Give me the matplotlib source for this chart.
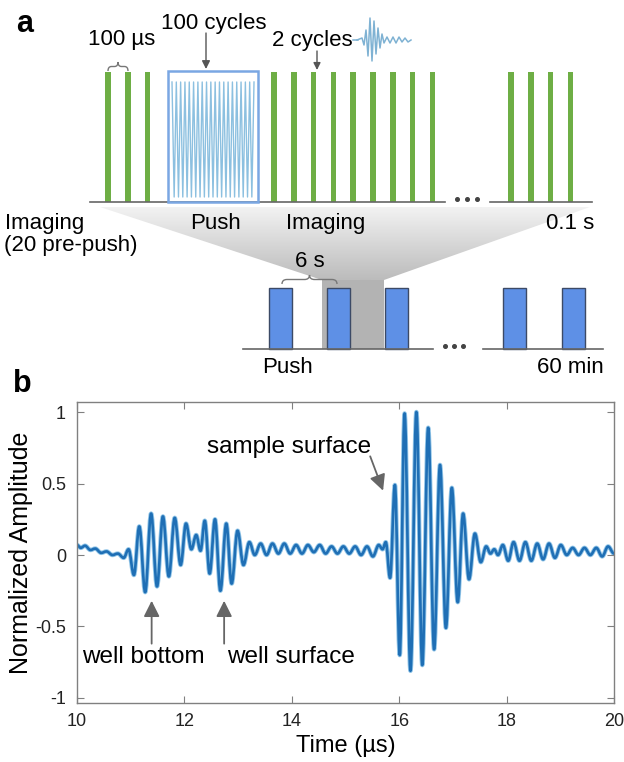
import numpy as np
import matplotlib
matplotlib.use('Agg')
from matplotlib import pyplot as plt
from matplotlib.path import Path
from matplotlib.patches import PathPatch, Rectangle, Polygon
from matplotlib.colors import LinearSegmentedColormap

plt.rcParams['font.family'] = ['Liberation Sans', 'DejaVu Sans']
plt.rcParams['axes.unicode_minus'] = False

# ---- panel b: echo trace, extrema ----
echo_t = [10.00, 10.07, 10.15, 10.25, 10.34, 10.45, 10.55, 10.66, 10.76, 10.87, 10.96,
          11.06, 11.16, 11.27, 11.38, 11.49, 11.60, 11.71, 11.82, 11.93, 12.03,
          12.13, 12.22, 12.30, 12.38, 12.47, 12.57, 12.67, 12.78, 12.88, 12.99,
          13.10, 13.21, 13.31, 13.42, 13.53, 13.64, 13.75, 13.86, 13.97, 14.08,
          14.19, 14.30, 14.41, 14.52, 14.63, 14.74, 14.85, 14.96, 15.07, 15.18,
          15.29, 15.40, 15.51, 15.62, 15.69, 15.75, 15.83, 15.92, 16.01, 16.10,
          16.21, 16.32, 16.43, 16.54, 16.65, 16.76, 16.87, 16.98, 17.09, 17.19,
          17.30, 17.41, 17.52, 17.62, 17.70, 17.77, 17.84, 17.93, 18.03, 18.13,
          18.24, 18.35, 18.46, 18.57, 18.68, 18.79, 18.90, 19.01, 19.12, 19.23,
          19.34, 19.45, 19.56, 19.67, 19.78, 19.89, 20.00]
echo_amp = [0.07, 0.05, 0.065, 0.035, 0.045, 0.015, 0.025, 0.0, 0.01, -0.02, 0.04,
            -0.14, 0.20, -0.26, 0.29, -0.22, 0.27, -0.15, 0.26, -0.07, 0.22,
            0.04, 0.14, 0.03, 0.24, -0.13, 0.25, -0.25, 0.22, -0.20, 0.17,
            -0.07, 0.09, 0.0, 0.08, 0.0, 0.08, 0.01, 0.08, 0.01, 0.07,
            0.01, 0.07, 0.02, 0.07, 0.01, 0.06, 0.01, 0.06, 0.01, 0.06,
            0.0, 0.06, -0.01, 0.07, 0.04, 0.09, -0.16, 0.49, -0.70, 0.99,
            -0.81, 1.0, -0.77, 0.89, -0.66, 0.63, -0.51, 0.47, -0.33, 0.29,
            -0.17, 0.15, -0.05, 0.06, 0.01, 0.04, 0.0, 0.07, -0.04, 0.09,
            -0.04, 0.09, -0.04, 0.08, -0.03, 0.08, -0.02, 0.07, 0.0, 0.05,
            0.0, 0.05, 0.0, 0.05, -0.01, 0.06, 0.01]

time_ticks = [10, 12, 14, 16, 18, 20]
amp_ticks = [-1, -0.5, 0, 0.5, 1]
amp_labels = ['-1', '-0.5', '0', '0.5', '1']

# ---- panel a: pulse sequence counts ----
pre_push_pulses = 3
post_push_pulses = 9
tail_pulses = 4
push_cycles_drawn = 19
head_push_blocks = 3
tail_push_blocks = 2

# little 2-cycle pulse icon (offsets in px)
icon_x = [357, 362, 364, 366, 368, 370, 372, 374, 376, 378, 380, 382, 384,
          387, 390, 393, 396, 399, 402, 405, 408, 411]
icon_dy = [0, 2, -5, 10, -16, 22, -21, 19, -14, 12, -8, 6, -3,
           3, -3, 3, -3, 3, -2, 2, -2, 0]


def smooth_path(xs, ys, k=0.36):
    verts = [(xs[0], ys[0])]
    codes = [Path.MOVETO]
    for i in range(len(xs) - 1):
        dx = xs[i + 1] - xs[i]
        verts += [(xs[i] + k * dx, ys[i]), (xs[i + 1] - k * dx, ys[i + 1]), (xs[i + 1], ys[i + 1])]
        codes += [Path.CURVE4] * 3
    return Path(verts, codes)


def brace(ax, x0, x1, yb, h, r=4, color='#777777'):
    xm = (x0 + x1) / 2
    ym = yb - h / 2
    verts = [(x0, yb), (x0, ym), (x0 + r, ym), (xm - r, ym), (xm, ym), (xm, yb - h),
             (xm, ym), (xm + r, ym), (x1 - r, ym), (x1, ym), (x1, yb)]
    codes = [Path.MOVETO, Path.CURVE3, Path.CURVE3, Path.LINETO, Path.CURVE3, Path.CURVE3,
             Path.CURVE3, Path.CURVE3, Path.LINETO, Path.CURVE3, Path.CURVE3]
    ax.add_patch(PathPatch(Path(verts, codes), fill=False, edgecolor=color, lw=1.0))


def arrow(ax, tail, tip, scale=8, hl=0.6, hw=0.3, color='#555555', lw=1.0):
    ax.annotate('', xy=tip, xytext=tail,
                arrowprops=dict(arrowstyle='-|>,head_length=%g,head_width=%g' % (hl, hw),
                                color=color, lw=lw, mutation_scale=scale,
                                shrinkA=0, shrinkB=0))


fig = plt.figure(figsize=(6.24, 7.62), dpi=100)

# overlay axes in pixel units for the schematic
ax_a = fig.add_axes([0, 0, 1, 1])
ax_a.set_xlim(0, 624)
ax_a.set_ylim(762, 0)
ax_a.axis('off')

# funnel linking the 0.1 s block to the push slot
fade = LinearSegmentedColormap.from_list('fade', ['#f2f2f2', '#bcbcbc'])
funnel = Polygon([(100, 207), (590, 207), (384, 280), (322, 280)], closed=True,
                 facecolor='none', edgecolor='none')
ax_a.add_patch(funnel)
im = ax_a.imshow(np.linspace(0, 1, 64).reshape(-1, 1), extent=[100, 590, 280, 207],
                 cmap=fade, aspect='auto', origin='upper', zorder=0)
im.set_clip_path(funnel)
ax_a.add_patch(Rectangle((322, 280), 62, 69, facecolor='#b3b3b3', edgecolor='none', zorder=1))
ax_a.set_xlim(0, 624)
ax_a.set_ylim(762, 0)

# top timeline
line_c = '#666666'
ax_a.plot([90, 445], [202, 202], color=line_c, lw=1.2, zorder=3)
ax_a.plot([490, 592], [202, 202], color=line_c, lw=1.2, zorder=3)
ax_a.plot([457, 467, 477], [199, 199, 199], 'o', ms=2.6, color='#444444')

green = '#6eae45'
pitch = 19.8
groups = [(108, pre_push_pulses), (274, post_push_pulses), (511, tail_pulses)]
for x0, n in groups:
    for i in range(n):
        ax_a.add_patch(Rectangle((x0 + i * pitch - 2.8, 72), 5.6, 130,
                                 facecolor=green, edgecolor='none', zorder=2))

# push burst
zx = np.linspace(172, 254, 2 * push_cycles_drawn + 1)
zy = [82 if i % 2 == 0 else 197 for i in range(len(zx))]
ax_a.plot(zx, zy, color='#8cc0e0', lw=1.0, zorder=2)
ax_a.add_patch(Rectangle((168, 71), 90, 131, fill=False, edgecolor='#7aa7e3', lw=1.8, zorder=3))

# pulse icon
ax_a.plot([353, 358], [40, 40], color='#7fb2d3', lw=1.1)
ax_a.plot(icon_x, [40 - d for d in icon_dy], color='#7fb2d3', lw=1.1)

brace(ax_a, 108, 128, 71, 9, r=3.5)
arrow(ax_a, (206, 33), (206, 69))
arrow(ax_a, (317, 51), (317, 70), scale=7)

fs_a = 16
ax_a.text(16, 32, 'a', fontsize=22, fontweight='bold', va='baseline')
ax_a.text(121.5, 45, '100 µs', fontsize=fs_a, ha='center', va='baseline')
ax_a.text(214, 29, '100 cycles', fontsize=fs_a, ha='center', va='baseline')
ax_a.text(312.5, 46, '2 cycles', fontsize=fs_a, ha='center', va='baseline')
ax_a.text(5, 229, 'Imaging', fontsize=fs_a, ha='left', va='baseline')
ax_a.text(4, 251, '(20 pre-push)', fontsize=fs_a, ha='left', va='baseline')
ax_a.text(215, 229, 'Push', fontsize=fs_a, ha='center', va='baseline')
ax_a.text(326, 229, 'Imaging', fontsize=fs_a, ha='center', va='baseline')
ax_a.text(570, 229, '0.1 s', fontsize=fs_a, ha='center', va='baseline')

# lower timeline
ax_a.plot([243, 433], [349, 349], color=line_c, lw=1.2, zorder=3)
ax_a.plot([483, 603], [349, 349], color=line_c, lw=1.2, zorder=3)
ax_a.plot([445, 454, 463], [346, 346, 346], 'o', ms=2.6, color='#444444')
blue = '#5e90e6'
for x0, n, step in [(269, head_push_blocks, 58), (503, tail_push_blocks, 59)]:
    for i in range(n):
        ax_a.add_patch(Rectangle((x0 + i * step, 288), 23, 61, facecolor=blue,
                                 edgecolor='#3c4a66', lw=1.0, zorder=2))
brace(ax_a, 282, 337, 284, 9, r=5)
ax_a.text(310, 267, '6 s', fontsize=fs_a, ha='center', va='baseline')
ax_a.text(288, 373, 'Push', fontsize=fs_a, ha='center', va='baseline')
ax_a.text(604, 373, '60 min', fontsize=fs_a, ha='right', va='baseline')
ax_a.text(13, 392, 'b', fontsize=22, fontweight='bold', va='baseline')

# ---- panel b ----
W, H = 624, 762
ax = fig.add_axes([77 / W, 1 - 703 / H, 537 / W, 301 / H])
ax.set_xlim(10, 20)
ax.set_ylim(-1.035, 1.07)
ax.add_patch(PathPatch(smooth_path(echo_t, echo_amp), fill=False, edgecolor='#93c6e8',
                       lw=3.2, capstyle='round', joinstyle='round'))
ax.add_patch(PathPatch(smooth_path(echo_t, echo_amp), fill=False, edgecolor='#1f6fb5',
                       lw=1.9, capstyle='round', joinstyle='round'))

ax.set_xticks(time_ticks)
ax.set_yticks(amp_ticks)
ax.set_yticklabels(amp_labels)
ax.tick_params(direction='in', length=5, top=True, right=True, labelsize=13,
               color='#808080', labelcolor='#222222')
ax.tick_params(axis='x', pad=7)
ax.tick_params(axis='y', pad=8)
for s in ax.spines.values():
    s.set_color('#808080')
    s.set_linewidth(1.0)

ax.set_ylabel('Normalized Amplitude', fontsize=18)
ax.yaxis.set_label_coords(-0.082, 0.5)
ax.set_xlabel('Time (µs)', fontsize=17)
ax.xaxis.set_label_coords(0.5, -0.105)

fs_b = 17.5
ax.text(12.42, 0.71, 'sample surface', fontsize=fs_b, va='baseline')
arrow(ax, (15.46, 0.69), (15.70, 0.45), scale=12, hl=0.8, hw=0.4, color='#666666', lw=1.3)
ax.text(10.09, -0.755, 'well bottom', fontsize=fs_b, va='baseline')
ax.text(12.79, -0.755, 'well surface', fontsize=fs_b, va='baseline')
arrow(ax, (11.39, -0.62), (11.39, -0.32), scale=12, hl=0.8, hw=0.4, color='#666666', lw=1.3)
arrow(ax, (12.74, -0.62), (12.74, -0.32), scale=12, hl=0.8, hw=0.4, color='#666666', lw=1.3)

fig.savefig('out.png', dpi=100)
